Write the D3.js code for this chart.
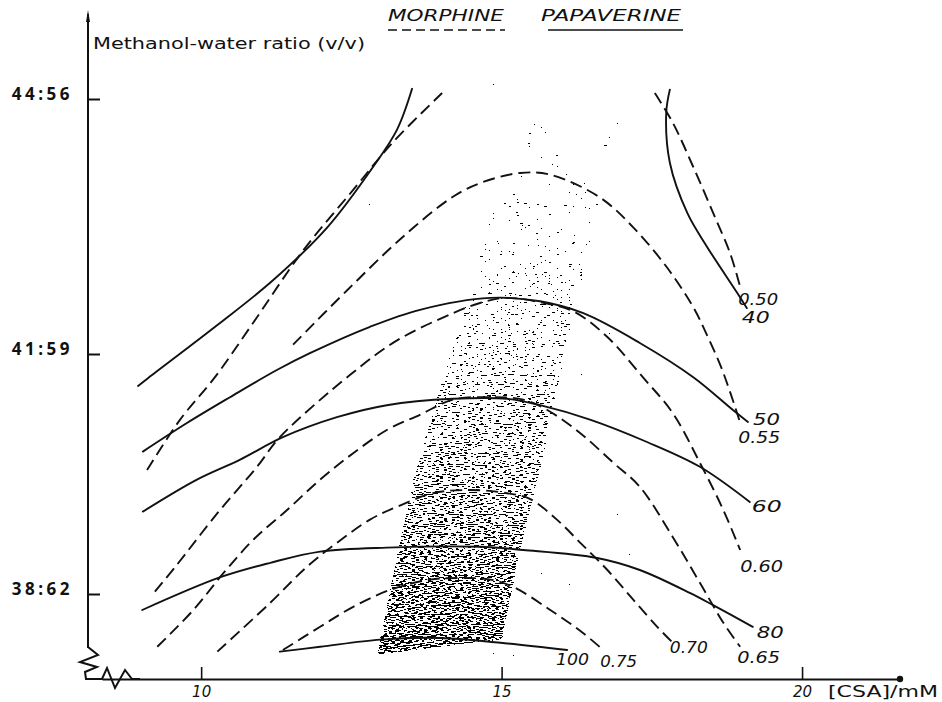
<!DOCTYPE html>
<html>
<head>
<meta charset="utf-8">
<script src="https://cdn.jsdelivr.net/npm/d3@7"></script>
<style>
  body { margin: 0; background: #fff; }
  svg { display: block; }
  .curve { fill: none; stroke: #111; stroke-width: 1.9; stroke-linecap: round; }
  .dashed { stroke-dasharray: 12, 6; stroke-linecap: butt; }
  .axis-line { fill: none; stroke: #111; stroke-width: 2; }
  .lbl { font-family: "DejaVu Sans", sans-serif; font-style: italic; font-size: 15px; fill: #111; }
</style>
</head>
<body>
<div id="chart"></div>
<script>
// papaverine capacity factor contours (solid), [CSA mM, methanol %]
var pap40Left = [[8.95,40.60],[9.12,40.70],[10.27,41.34],[11.20,41.87],[12.10,42.49],[12.86,43.20],[13.26,43.64],[13.51,44.12]];
var pap40Right = [[17.80,44.11],[17.74,43.84],[17.80,43.25],[18.09,42.66],[18.42,42.26],[18.92,41.72],[19.08,41.54]];
var pap50 = [[9.03,39.78],[9.77,40.14],[10.48,40.46],[11.26,40.80],[11.81,41.01],[12.81,41.32],[13.64,41.52],[14.81,41.66],[15.64,41.62],[16.36,41.48],[17.30,41.13],[18.19,40.71],[18.85,40.30],[19.10,40.15]];
var pap60 = [[9.03,39.03],[9.93,39.43],[10.65,39.68],[11.36,39.96],[12.26,40.21],[13.09,40.36],[14.19,40.44],[15.09,40.44],[15.64,40.36],[16.47,40.18],[17.42,39.90],[18.30,39.59],[19.13,39.15]];
var pap80 = [[9.02,37.80],[10.32,38.21],[11.15,38.39],[11.98,38.53],[13.09,38.58],[14.64,38.59],[15.36,38.55],[16.59,38.45],[17.30,38.30],[18.14,38.01],[18.52,37.86],[19.18,37.59]];
var pap100 = [[11.31,37.28],[11.98,37.34],[12.98,37.43],[13.98,37.45],[14.98,37.39],[16.09,37.30]];

// morphine contours (dashed)
var mor50Left = [[9.10,39.55],[9.65,40.18],[10.23,40.71],[10.82,41.32],[11.70,42.22],[12.53,42.93],[13.19,43.49],[14.01,44.07]];
var mor50Right = [[17.55,44.07],[17.85,43.72],[18.19,43.20],[18.52,42.66],[18.80,42.19],[18.97,41.79]];
var mor55 = [[11.53,41.11],[12.43,41.75],[13.36,42.38],[14.19,42.85],[14.64,43.01],[15.31,43.13],[15.81,43.11],[16.64,42.84],[17.19,42.49],[17.75,42.02],[18.19,41.55],[18.42,41.22],[18.64,40.86],[18.80,40.53],[18.97,40.14]];
var mor60 = [[9.23,38.03],[9.57,38.34],[10.27,39.01],[10.93,39.59],[11.31,39.96],[12.48,40.74],[13.26,41.16],[14.19,41.48],[14.64,41.60],[15.06,41.66],[15.64,41.61],[16.20,41.50],[16.76,41.20],[17.35,40.71],[17.85,40.26],[18.30,39.64],[18.69,39.05],[18.97,38.55]];
var mor65 = [[9.27,37.34],[9.87,37.80],[10.37,38.26],[10.87,38.68],[11.43,39.05],[11.98,39.43],[12.53,39.76],[13.09,40.05],[13.64,40.24],[14.19,40.43],[14.81,40.46],[15.36,40.43],[15.76,40.30],[16.31,40.01],[16.86,39.64],[17.30,39.34],[17.85,38.71],[18.30,38.14],[18.69,37.64],[18.97,37.34]];
var mor70 = [[10.27,37.28],[11.15,37.89],[11.76,38.34],[12.26,38.64],[12.81,38.93],[13.26,39.09],[13.86,39.26],[14.48,39.30],[15.09,39.26],[15.47,39.19],[15.92,38.93],[16.31,38.64],[16.76,38.30],[17.19,37.93],[17.59,37.59],[17.85,37.39]];
var mor75 = [[11.36,37.30],[11.98,37.59],[12.53,37.84],[13.14,38.05],[13.81,38.18],[14.31,38.20],[14.81,38.18],[15.19,38.09],[15.81,37.80],[16.36,37.51],[16.69,37.30]];

// optimum (shaded) region
var stippleRegion = [[12.93,37.24],[13.14,38.05],[13.53,39.43],[13.98,40.59],[14.53,41.87],[14.98,43.05],[15.31,43.75],[15.97,43.87],[16.97,43.75],[16.64,42.81],[16.26,41.64],[15.97,40.71],[15.72,39.80],[15.31,38.55],[15.01,37.43]];

var papaverineCurves = [["40", [pap40Left, pap40Right]], ["50", [pap50]], ["60", [pap60]], ["80", [pap80]], ["100", [pap100]]];
var morphineCurves = [["0.50", [mor50Left, mor50Right]], ["0.55", [mor55]], ["0.60", [mor60]], ["0.65", [mor65]], ["0.70", [mor70]], ["0.75", [mor75]]];

var xTicks = [10, 15, 20];
var yTicks = [38, 41, 44];

// label placement relative to the end of each curve (px)
var labelOffsets = {"40":[-5,15],"50":[5,3],"60":[2,10],"80":[4,11],"100":[-11,15],
  "0.50":[-2,18],"0.55":[-2,20],"0.60":[0,22],"0.65":[-3,16],"0.70":[-3,10],"0.75":[-3,17]};
var labelWidths = {"40":28,"50":27,"60":30,"80":27,"100":33,
  "0.50":40,"0.55":42,"0.60":43,"0.65":43,"0.70":38,"0.75":37};

var width = 942, height = 702;
var axisX = 88, axisY = 679;

var svg = d3.select("#chart").append("svg")
  .attr("width", width)
  .attr("height", height);

var x = d3.scaleLinear().domain([8.35, 21.63]).range([102, 900]);
var y = d3.scaleLinear().domain([38, 41, 44]).range([594, 354, 99]);

var line = d3.line()
  .x(function (d) { return x(d[0]); })
  .y(function (d) { return y(d[1]); })
  .curve(d3.curveCatmullRom.alpha(0.5));

// stipple texture: noise thresholded against a density gradient
var defs = svg.append("defs");
var grad = defs.append("linearGradient")
  .attr("id", "density")
  .attr("gradientUnits", "userSpaceOnUse")
  .attr("x1", 0).attr("x2", 0)
  .attr("y1", y(43.9)).attr("y2", y(37.2));
[[0, 0.1], [0.35, 0.28], [0.6, 0.44], [0.8, 0.55], [1, 0.64]].forEach(function (s) {
  grad.append("stop").attr("offset", s[0]).attr("stop-color", "#000").attr("stop-opacity", s[1]);
});

var filter = defs.append("filter")
  .attr("id", "stipple")
  .attr("color-interpolation-filters", "sRGB");
filter.append("feTurbulence")
  .attr("type", "fractalNoise")
  .attr("baseFrequency", "0.25 0.9")
  .attr("numOctaves", 1)
  .attr("seed", 7)
  .attr("result", "noise");
filter.append("feColorMatrix")
  .attr("in", "noise")
  .attr("type", "matrix")
  .attr("values", "0 0 0 0 0  0 0 0 0 0  0 0 0 0 0  1 0 0 0 0")
  .attr("result", "na");
filter.append("feComposite")
  .attr("in", "SourceGraphic").attr("in2", "na")
  .attr("operator", "arithmetic")
  .attr("k1", 0).attr("k2", 1).attr("k3", 2).attr("k4", -1.15)
  .attr("result", "sum");
filter.append("feComponentTransfer")
  .attr("in", "sum")
  .append("feFuncA").attr("type", "discrete").attr("tableValues", "0 1");

svg.append("path")
  .datum(stippleRegion)
  .attr("d", d3.line()
    .x(function (d) { return x(d[0]); })
    .y(function (d) { return y(d[1]); })
    .curve(d3.curveLinearClosed))
  .attr("fill", "url(#density)")
  .attr("filter", "url(#stipple)");

// axes
var yAxis = d3.axisLeft(y)
  .tickValues(yTicks)
  .tickFormat(function (d) { return d + ":" + (100 - d); })
  .tickSizeInner(-12)
  .tickSizeOuter(0)
  .tickPadding(15);

var gy = svg.append("g")
  .attr("transform", "translate(" + axisX + ",0)")
  .call(yAxis);
gy.select(".domain").remove();
gy.selectAll(".tick line").attr("stroke", "#111").attr("stroke-width", 2);
gy.selectAll(".tick text")
  .attr("dy", "0.05em")
  .style("font-family", "'Open Sans', sans-serif")
  .style("font-weight", 700)
  .style("font-size", "17px")
  .style("letter-spacing", "3.5px")
  .attr("fill", "#111");

svg.append("line")
  .attr("class", "axis-line")
  .attr("x1", axisX).attr("x2", axisX)
  .attr("y1", 14).attr("y2", 648);
svg.append("path")
  .attr("d", "M" + (axisX - 2) + ",22L" + axisX + ",10L" + (axisX + 2) + ",22Z")
  .attr("fill", "#111");

var xAxis = d3.axisBottom(x)
  .tickValues(xTicks)
  .tickSizeInner(-12)
  .tickSizeOuter(0)
  .tickPadding(7);

var gx = svg.append("g")
  .attr("transform", "translate(0," + axisY + ")")
  .call(xAxis);
gx.select(".domain").attr("stroke", "#111").attr("stroke-width", 2);
gx.selectAll(".tick line").attr("stroke", "#111").attr("stroke-width", 1.6);
gx.selectAll(".tick text")
  .style("font-family", "'DejaVu Sans', sans-serif")
  .style("font-style", "italic")
  .style("font-size", "15px")
  .attr("fill", "#111");

// axis breaks
svg.append("path")
  .attr("class", "axis-line")
  .attr("d", "M" + axisX + ",647L98,655L80,662L97,667L85,672L86," + axisY +
    "L102," + axisY + "L107,668L115,688L125,670L132," + axisY + "L140," + axisY);
svg.append("circle")
  .attr("cx", x(21.63)).attr("cy", axisY).attr("r", 3.2)
  .attr("fill", "#111");

svg.append("text")
  .attr("x", 828).attr("y", 697)
  .attr("textLength", 110).attr("lengthAdjust", "spacingAndGlyphs")
  .style("font-family", "'DejaVu Sans', sans-serif")
  .style("font-size", "16px")
  .attr("fill", "#111")
  .text("[CSA]/mM");

svg.append("text")
  .attr("x", 93).attr("y", 49)
  .attr("textLength", 272).attr("lengthAdjust", "spacingAndGlyphs")
  .style("font-family", "'DejaVu Sans', sans-serif")
  .style("font-size", "16px")
  .attr("fill", "#111")
  .text("Methanol-water ratio (v/v)");

// legend headings
svg.append("text")
  .attr("x", 388).attr("y", 21)
  .attr("textLength", 116).attr("lengthAdjust", "spacingAndGlyphs")
  .attr("class", "lbl").style("font-size", "16px")
  .text("MORPHINE");
svg.append("line")
  .attr("x1", 388).attr("x2", 505).attr("y1", 30).attr("y2", 30)
  .attr("stroke", "#111").attr("stroke-width", 1.6)
  .attr("stroke-dasharray", "9,5");
svg.append("text")
  .attr("x", 541).attr("y", 21)
  .attr("textLength", 140).attr("lengthAdjust", "spacingAndGlyphs")
  .attr("class", "lbl").style("font-size", "16px")
  .text("PAPAVERINE");
svg.append("line")
  .attr("x1", 548).attr("x2", 683).attr("y1", 30).attr("y2", 30)
  .attr("stroke", "#111").attr("stroke-width", 1.6);

// contour lines
function drawContours(curves, dashed) {
  curves.forEach(function (c) {
    var level = c[0], parts = c[1];
    parts.forEach(function (pts) {
      svg.append("path")
        .datum(pts)
        .attr("class", dashed ? "curve dashed" : "curve")
        .attr("d", line);
    });
    var last = parts[parts.length - 1];
    var end = last[last.length - 1];
    var off = labelOffsets[level];
    svg.append("text")
      .attr("class", "lbl")
      .attr("x", x(end[0]) + off[0])
      .attr("y", y(end[1]) + off[1])
      .attr("textLength", labelWidths[level])
      .attr("lengthAdjust", "spacingAndGlyphs")
      .text(level);
  });
}

drawContours(papaverineCurves, false);
drawContours(morphineCurves, true);
</script>
</body>
</html>
